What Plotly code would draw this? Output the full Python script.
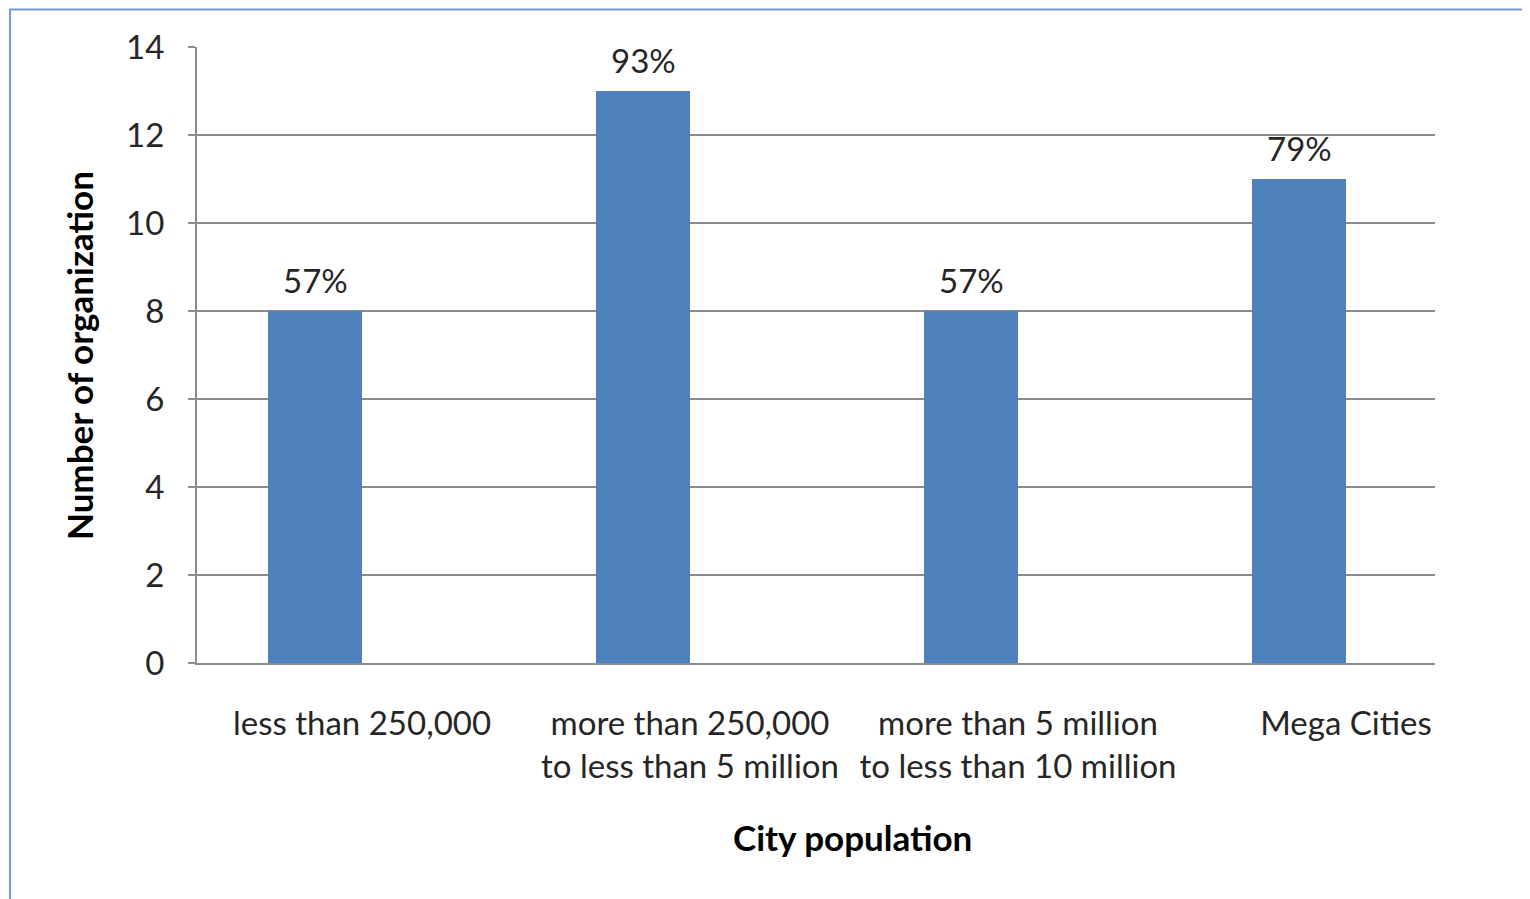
import plotly.graph_objects as go

categories = ["less than 250,000",
              "more than 250,000 to less than 5 million",
              "more than 5 million to less than 10 million",
              "Mega Cities"]
label_line1 = ["less than 250,000", "more than 250,000", "more than 5 million", "Mega Cities"]
label_line2 = ["", "to less than 5 million", "to less than 10 million", ""]
counts = [8, 13, 8, 11]
pct_labels = ["57%", "93%", "57%", "79%"]
y_ticks = [0, 2, 4, 6, 8, 10, 12, 14]

FONT = "Lato"
TXT = "#262626"
GRID = "#8c8c8c"
BAR = "#4F81BD"
FS = 33
TFS = 35

# page offset (default body margin)
OFF = 8
W, H = 1530 - OFF, 899 - OFF
L, T = 197 - OFF, 47 - OFF
R = (1530 - 1435)
B = (899 - 663)
pw, ph = W - L - R, H - T - B
px_per_cat = 328.0
x0 = -(362 - 197) / px_per_cat
x1 = x0 + pw / px_per_cat
bar_w = 94 / px_per_cat

def px_x(px):
    return (px - OFF - L) / pw

def px_y(py):
    return (H - B - (py - OFF)) / ph

fig = go.Figure()
fig.add_trace(go.Bar(
    x=categories, y=counts,
    width=bar_w, offset=-bar_w,
    marker=dict(color=BAR, line=dict(width=0)),
    cliponaxis=False, showlegend=False,
))
# empty helper trace so the second-line label axis is drawn
fig.add_trace(go.Scatter(x=[], y=[], xaxis="x2", yaxis="y", showlegend=False,
                         hoverinfo="skip"))

# data labels above the bars
for cat, val, lab in zip(categories, counts, pct_labels):
    fig.add_annotation(
        x=cat, y=val, text=lab, showarrow=False,
        xanchor="center", yanchor="bottom", xshift=-47, yshift=9,
        font=dict(family=FONT, size=FS, color=TXT),
    )

fig.update_layout(
    width=W, height=H,
    margin=dict(l=L, r=R, t=T, b=B),
    paper_bgcolor="white", plot_bgcolor="white",
    font=dict(family=FONT, size=FS, color=TXT),
    xaxis=dict(
        type="category", range=[x0, x1],
        tickmode="array", tickvals=categories, ticktext=label_line1,
        showgrid=False, showline=True, linecolor=GRID, linewidth=2,
        ticks="", ticklabelstandoff=30,
        tickfont=dict(family=FONT, size=FS, color=TXT),
    ),
    xaxis2=dict(
        overlaying="x", anchor="y", side="bottom", type="linear",
        range=[x0, x1], tickmode="array", tickvals=[0, 1, 2, 3], ticktext=label_line2,
        showgrid=False, showline=False, zeroline=False, ticks="",
        ticklabelstandoff=81,
        tickfont=dict(family=FONT, size=FS, color=TXT),
    ),
    yaxis=dict(
        range=[0, 14], tickmode="array", tickvals=y_ticks,
        showgrid=True, gridcolor=GRID, gridwidth=1.5,
        showline=True, linecolor=GRID, linewidth=2,
        ticks="outside", ticklen=7, tickcolor=GRID, tickwidth=1.5,
        ticklabelstandoff=17, zeroline=False,
        tickfont=dict(family=FONT, size=FS, color=TXT),
    ),
    bargap=0,
)

# axis titles
fig.add_annotation(
    text="<b>City population</b>", xref="paper", yref="paper",
    x=px_x(852), y=px_y(837), xanchor="center", yanchor="middle",
    showarrow=False, font=dict(family=FONT, size=TFS, color="black"),
)
fig.add_annotation(
    text="<b>Number of organization</b>", xref="paper", yref="paper",
    x=px_x(79), y=px_y(355), xanchor="center", yanchor="middle", textangle=-90,
    showarrow=False, font=dict(family=FONT, size=TFS, color="black"),
)

# chart-area frame
fig.add_shape(
    type="rect", xref="paper", yref="paper",
    x0=px_x(10), x1=px_x(1560), y0=px_y(930), y1=px_y(9.5),
    line=dict(color="#6F9AD6", width=2), fillcolor="rgba(0,0,0,0)", layer="below",
)

fig.write_html("out.html")
